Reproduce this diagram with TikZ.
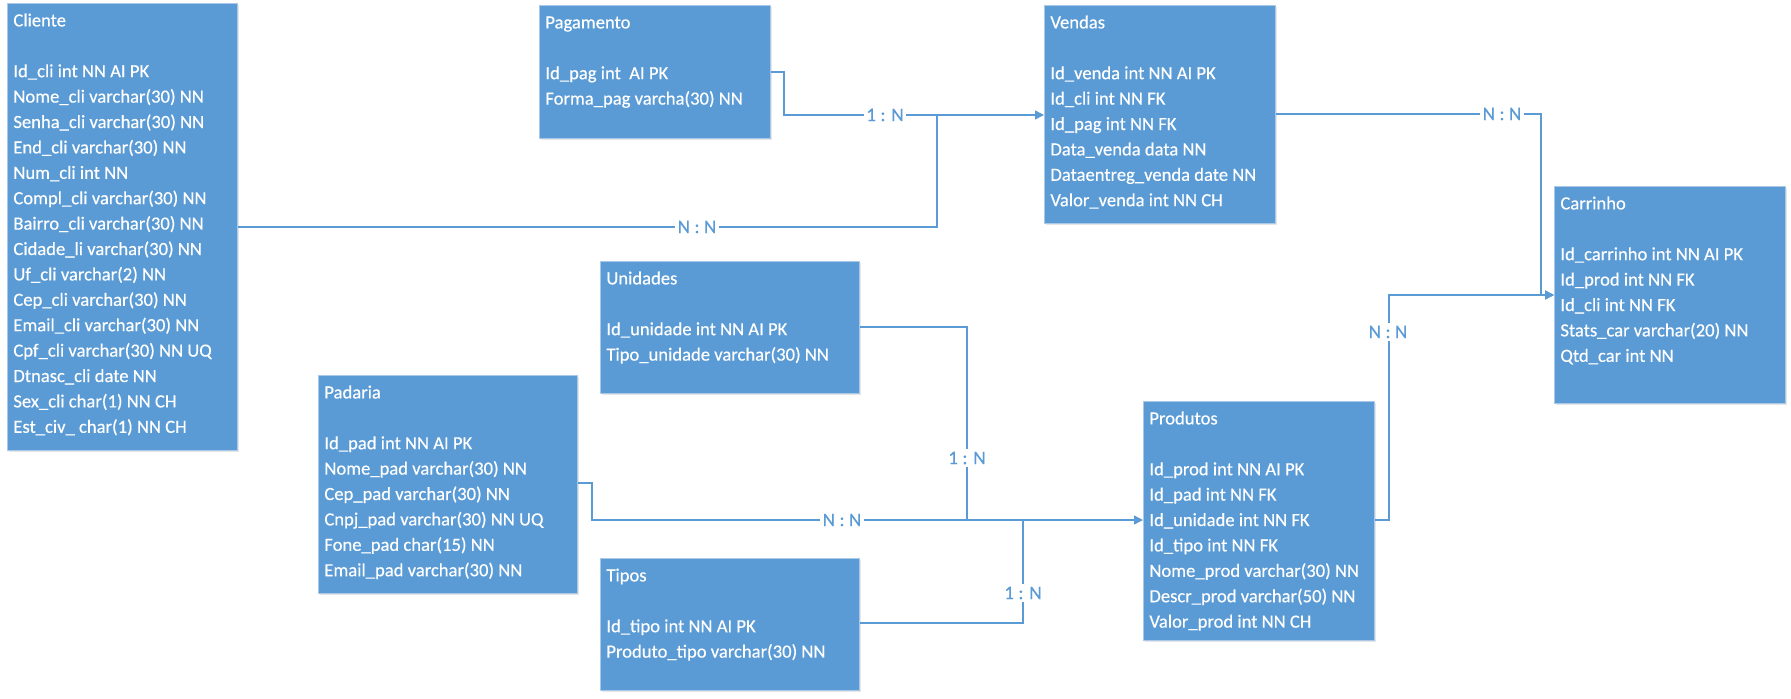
\documentclass[tikz,border=0pt]{standalone}
\usepackage{fontspec}
\setmainfont{Carlito}
\newfontfamily\boxfont{Carlito}[FakeBold=0.35]
\usetikzlibrary{arrows.meta,shadows}
\definecolor{boxblue}{RGB}{91,155,213}
\definecolor{boxedge}{RGB}{170,200,232}
\definecolor{linkblue}{RGB}{91,155,213}
\tikzset{
  entity/.style={rectangle, fill=boxblue, draw=boxedge, line width=0.5pt, inner sep=0pt, anchor=north west,
    drop shadow={shadow xshift=0.8pt, shadow yshift=-0.8pt, opacity=0.2}},
  fields/.style={anchor=north west, inner sep=0pt, text=white, align=left, font=\boxfont\fontsize{9.3}{12.7}\selectfont},
  link/.style={draw=linkblue, line width=0.7pt},
  arr/.style={-{Triangle[length=4.5pt,width=4.5pt]}},
  card/.style={fill=white, text=linkblue, inner sep=1.2pt, font=\boxfont\fontsize{9.6}{11}\selectfont},
}
\newcommand{\firstline}{\rule{0pt}{11.5pt}}
\begin{document}
\begin{tikzpicture}[x=0.5pt,y=-0.5pt]
\useasboundingbox (0,0) rectangle (1791,698);

% boxes
\node[entity, minimum width=115pt, minimum height=223.5pt] (cli) at (7,3) {};
\node[entity, minimum width=115.5pt, minimum height=66.5pt] (pag) at (539,5) {};
\node[entity, minimum width=115.5pt, minimum height=109pt] (ven) at (1044,5) {};
\node[entity, minimum width=115.5pt, minimum height=108.5pt] (car) at (1554,186) {};
\node[entity, minimum width=129.5pt, minimum height=66pt] (uni) at (600,261) {};
\node[entity, minimum width=129.5pt, minimum height=109pt] (pad) at (318,375) {};
\node[entity, minimum width=129.5pt, minimum height=66pt] (tip) at (600,558) {};
\node[entity, minimum width=115.5pt, minimum height=119.5pt] (pro) at (1143,401) {};

% texts
\node[fields] (clit) at ([xshift=3pt]cli.north west) {\firstline Cliente\\[12.7pt]
Id\_cli int NN AI PK\\ Nome\_cli varchar(30) NN\\ Senha\_cli varchar(30) NN\\ End\_cli varchar(30) NN\\
Num\_cli int NN\\ Compl\_cli varchar(30) NN\\ Bairro\_cli varchar(30) NN\\ Cidade\_li varchar(30) NN\\
Uf\_cli varchar(2) NN\\ Cep\_cli varchar(30) NN\\ Email\_cli varchar(30) NN\\ Cpf\_cli varchar(30) NN UQ\\
Dtnasc\_cli date NN\\ Sex\_cli char(1) NN CH\\ Est\_civ\_ char(1) NN CH};
\node[fields] (pagt) at ([xshift=3pt]pag.north west) {\firstline Pagamento\\[12.7pt]
Id\_pag int~ AI PK\\ Forma\_pag varcha(30) NN};
\node[fields] (vent) at ([xshift=3pt]ven.north west) {\firstline Vendas\\[12.7pt]
Id\_venda int NN AI PK\\ Id\_cli int NN FK\\ Id\_pag int NN FK\\ Data\_venda data NN\\
Dataentreg\_venda date NN\\ Valor\_venda int NN CH};
\node[fields] (cart) at ([xshift=3pt]car.north west) {\firstline Carrinho\\[12.7pt]
Id\_carrinho int NN AI PK\\ Id\_prod int NN FK\\ Id\_cli int NN FK\\ Stats\_car varchar(20) NN\\ Qtd\_car int NN};
\node[fields] (unit) at ([xshift=3pt]uni.north west) {\firstline Unidades\\[12.7pt]
Id\_unidade int NN AI PK\\ Tipo\_unidade varchar(30) NN};
\node[fields] (padt) at ([xshift=3pt]pad.north west) {\firstline Padaria\\[12.7pt]
Id\_pad int NN AI PK\\ Nome\_pad varchar(30) NN\\ Cep\_pad varchar(30) NN\\ Cnpj\_pad varchar(30) NN UQ\\
Fone\_pad char(15) NN\\ Email\_pad varchar(30) NN};
\node[fields] (tipt) at ([xshift=3pt]tip.north west) {\firstline Tipos\\[12.7pt]
Id\_tipo int NN AI PK\\ Produto\_tipo varchar(30) NN};
\node[fields] (prot) at ([xshift=3pt]pro.north west) {\firstline Produtos\\[12.7pt]
Id\_prod int NN AI PK\\ Id\_pad int NN FK\\ Id\_unidade int NN FK\\ Id\_tipo int NN FK\\
Nome\_prod varchar(30) NN\\ Descr\_prod varchar(50) NN\\ Valor\_prod int NN CH};

% junction coordinates
\coordinate (pv) at (784,115);
\coordinate (cv) at (937,227);
\coordinate (cp) at (1541,295);
\coordinate (up) at (967,520);
\coordinate (tp) at (1023,520);

% connectors
\draw[link,arr] ([yshift=-33.5pt]pag.north east) -| (pv) -- (ven.west |- pv);
\draw[link] ([yshift=-112pt]cli.north east) -- (cv) -- (cv |- pv);
\draw[link,arr] ([yshift=-54.5pt]ven.north east) -| (cp) -- (car.west |- cp);
\draw[link,arr] ([yshift=-33pt]uni.north east) -| (up) -- (pro.west |- up);
\draw[link] ([yshift=-54pt]pad.north east) -- ++(7pt,0) |- (up);
\draw[link] ([yshift=-32.5pt]tip.north east) -| (tp);
\draw[link,arr] ([yshift=-59.5pt]pro.north east) -- ++(7pt,0) |- (car.west |- cp);

% cardinality labels
\node[card] (l1) at (885,115) {1 : N};
\node[card] (l2) at (697,227) {N : N};
\node[card] (l3) at (1502,114) {N : N};
\node[card] (l4) at (967,458) {1 : N};
\node[card] (l5) at (842,520) {N : N};
\node[card] (l6) at (1023,593) {1 : N};
\node[card] (l7) at (1388,332) {N : N};
\end{tikzpicture}
\end{document}
